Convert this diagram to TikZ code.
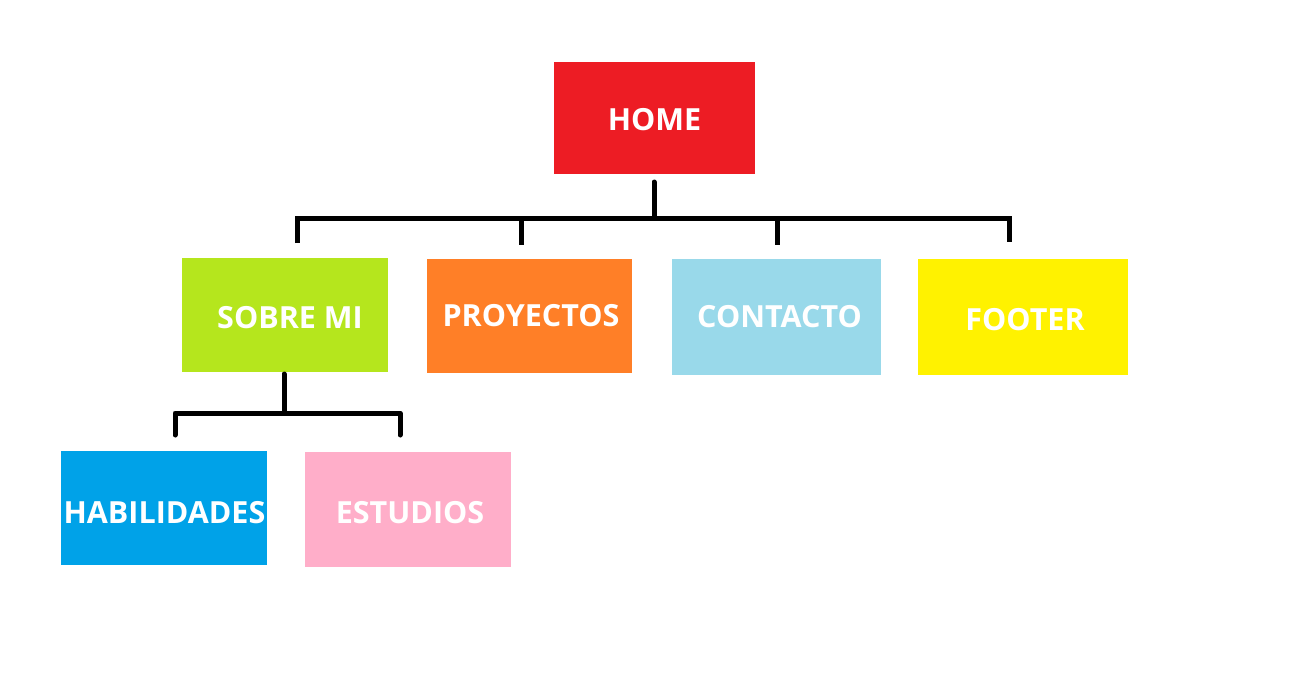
\documentclass[tikz,border=0pt]{standalone}
\usepackage{fontspec}
\setmainfont{Open Sans}
\definecolor{cred}{HTML}{ED1C24}
\definecolor{cgreen}{HTML}{B5E61D}
\definecolor{corange}{HTML}{FF7F27}
\definecolor{clblue}{HTML}{99D9EA}
\definecolor{cyellow}{HTML}{FFF200}
\definecolor{cblue}{HTML}{00A2E8}
\definecolor{cpink}{HTML}{FFAEC9}
\begin{document}
\begin{tikzpicture}[x=1pt,y=-1pt,
  box/.style={draw=none,inner sep=0pt,outer sep=0pt},
  lbl/.style={text=white,font=\fontsize{30.5}{32}\selectfont\bfseries,anchor=base,inner sep=0pt},
  conn/.style={line width=5pt,black}]
\useasboundingbox[fill=white] (0,0) rectangle (1313,694);
% boxes
\fill[cred]    (554,62)  rectangle (755,174);
\node[box] (home) at (654.5,118) {};
\fill[cgreen]  (182,258) rectangle (388,372);
\node[box] (sobre) at (285,315) {};
\fill[corange] (427,259) rectangle (632,373);
\node[box] (proy) at (530,316) {};
\fill[clblue]  (672,259) rectangle (881,375);
\node[box] (cont) at (776.5,317) {};
\fill[cyellow] (918,259) rectangle (1128,375);
\node[box] (foot) at (1023,317) {};
\fill[cblue]   (61,451)  rectangle (267,565);
\node[box] (hab) at (164,508) {};
\fill[cpink]   (305,452) rectangle (511,567);
\node[box] (est) at (408,509.5) {};
% labels
\node[lbl] at (654.5,130) {HOME};
\node[lbl] at (290,328) {SOBRE MI};
\node[lbl] at (531,326) {PROYECTOS};
\node[lbl] at (779.5,327) {CONTACTO};
\node[lbl] at (1025,330) {FOOTER};
\node[lbl] at (164.5,523) {HABILIDADES};
\node[lbl] at (410,523) {ESTUDIOS};
% connector coordinates
\coordinate (hs) at (654,182);
\coordinate (hb) at (654,218);
\coordinate (d1) at (297,243);
\coordinate (c1) at (297,218);
\coordinate (c4) at (1009,218);
\coordinate (d4) at (1009,242);
\coordinate (b2) at (521,218);
\coordinate (d2) at (521,245);
\coordinate (b3) at (777,218);
\coordinate (d3) at (777,245);
\coordinate (ss) at (284,374);
\coordinate (sb) at (284,413);
\coordinate (e1) at (175,435);
\coordinate (f1) at (175,413);
\coordinate (f2) at (400,413);
\coordinate (e2) at (400,435);
% connectors
\draw[conn,line cap=round] (hs) -- (hb);
\draw[conn] (d1) -- (c1) -- (c4) -- (d4);
\draw[conn] (b2) -- (d2);
\draw[conn] (b3) -- (d3);
\draw[conn,line cap=round] (ss) -- (sb);
\draw[conn,line cap=round,line join=round] (e1) -- (f1) -- (f2) -- (e2);
\end{tikzpicture}
\end{document}
